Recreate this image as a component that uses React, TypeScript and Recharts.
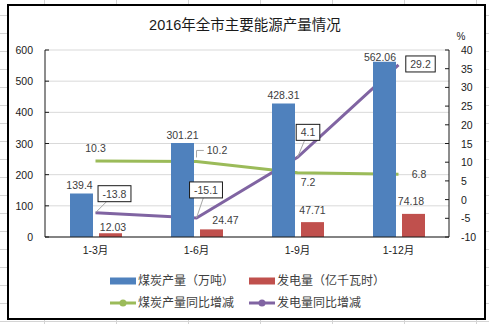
import React from 'react';
import { ComposedChart, Bar, Area, XAxis, YAxis, CartesianGrid, Legend, LabelList } from 'recharts';

// ---- data ----
const categories = ['1-3月', '1-6月', '1-9月', '1-12月'];
const coalOutput = [139.4, 301.21, 428.31, 562.06];
const powerOutput = [12.03, 24.47, 47.71, 74.18];
const coalYoY = [10.3, 10.2, 7.2, 6.8];
const powerYoY = [-13.8, -15.1, 4.1, 29.2];
const leftTicks = [0, 100, 200, 300, 400, 500, 600];
const rightTicks = [-10, -5, 0, 5, 10, 15, 20, 25, 30, 35, 40];

const seriesNames = {
  coal: '煤炭产量（万吨）',
  power: '发电量（亿千瓦时）',
  coalYoY: '煤炭产量同比增减',
  powerYoY: '发电量同比增减',
};

const data = categories.map((name, i) => ({
  name,
  coal: coalOutput[i],
  power: powerOutput[i],
  coalYoY: coalYoY[i],
  powerYoY: powerYoY[i],
}));

// ---- layout / style ----
const W = 489;
const H = 324;
const PLOT_LEFT = 45;
const PLOT_RIGHT = 449;
const PLOT_TOP = 50;
const PLOT_BOTTOM = 237;
const FONT = "'Liberation Sans', 'Noto Sans CJK SC', sans-serif";
const BLUE = '#4F81BD';
const RED = '#C0504D';
const GREEN = '#9BBB59';
const PURPLE = '#8064A2';
const AXIS = '#1a1a1a';
const LABEL = '#404040';

const COAL_NUDGE = [[-2, -8.5], [0, -8], [0, -8.4], [-4.5, -4.5]];
const POWER_NUDGE = [[2.5, -6.5], [14, -9.4], [0, -12], [-2.5, -13]];
const GREEN_OFFSETS = [[0, -13], [20.5, -11], [10.5, 9], [20.5, 0]];
const PURPLE_OFFSETS = [[19, -19], [9.5, -28], [10.5, -25], [22, -1]];

const LEGEND_LAYOUT: Record<string, { left: number; top: number; line: boolean; color: string }> = {
  coal: { left: 110, top: 6, line: false, color: BLUE },
  power: { left: 249, top: 6, line: false, color: RED },
  coalYoY: { left: 110, top: 28, line: true, color: GREEN },
  powerYoY: { left: 249, top: 28, line: true, color: PURPLE },
};

const textWidth = (s: string, fs: number) => {
  let w = 0;
  for (const ch of s) {
    if (ch === '.') w += 0.278;
    else if (ch === '-') w += 0.333;
    else w += 0.556;
  }
  return w * fs;
};

const LeftTick = (props: any) => {
  const { y, payload } = props;
  return (
    <g>
      <line x1={PLOT_LEFT} x2={PLOT_LEFT + 4} y1={y} y2={y} stroke={AXIS} strokeWidth={1} />
      <text x={33} y={y} textAnchor="end" dominantBaseline="central" fontSize={10.5} fill={AXIS} fontFamily={FONT}>
        {payload.value}
      </text>
    </g>
  );
};

const RightTick = (props: any) => {
  const { y, payload } = props;
  return (
    <g>
      <line x1={PLOT_RIGHT - 4} x2={PLOT_RIGHT} y1={y} y2={y} stroke={AXIS} strokeWidth={1} />
      <text x={461} y={y} textAnchor="start" dominantBaseline="central" fontSize={10.5} fill={AXIS} fontFamily={FONT}>
        {payload.value}
      </text>
    </g>
  );
};

const makeBarLabel = (nudges: number[][]) => (props: any) => {
  const { x, y, width, value, index } = props;
  const [dx, dy] = nudges[index] || [0, -8];
  return (
    <text x={x + width / 2 + dx} y={y + dy} textAnchor="middle" dominantBaseline="central" fontSize={10.5} fill={LABEL} fontFamily={FONT}>
      {value}
    </text>
  );
};

const GreenLabel = (props: any) => {
  const { x, y, value, index } = props;
  const [dx, dy] = GREEN_OFFSETS[index] || [0, -12];
  const cx = x + dx;
  const cy = y + dy;
  const s = String(value);
  const tw = textWidth(s, 10.5);
  return (
    <g>
      {index === 1 && (
        <polyline
          points={`${x},${y - 4} ${x},${cy} ${cx - tw / 2 - 3},${cy}`}
          fill="none"
          stroke="#a6a6a6"
          strokeWidth={1}
        />
      )}
      <text x={cx} y={cy} textAnchor="middle" dominantBaseline="central" fontSize={10.5} fill={LABEL} fontFamily={FONT}>
        {s}
      </text>
    </g>
  );
};

const PurpleLabel = (props: any) => {
  const { x, y, value, index } = props;
  const [dx, dy] = PURPLE_OFFSETS[index] || [10, -20];
  const cx = x + dx;
  const cy = y + dy;
  const s = String(value);
  const bw = textWidth(s, 10.5) + 9;
  const bh = 16;
  const by1 = cy + bh / 2;
  let leader = null;
  if (y > by1 + 2) {
    const tx = x + (cx - x) * (y - by1) / (y - cy);
    leader = <line x1={x} y1={y} x2={tx} y2={by1} stroke="#a6a6a6" strokeWidth={1} />;
  }
  return (
    <g>
      {leader}
      <rect x={cx - bw / 2} y={cy - bh / 2} width={bw} height={bh} fill="#fff" stroke="#1a1a1a" strokeWidth={1} />
      <text x={cx} y={cy} textAnchor="middle" dominantBaseline="central" fontSize={10.5} fill={LABEL} fontFamily={FONT}>
        {s}
      </text>
    </g>
  );
};

const LegendContent = (props: any) => {
  const payload = props.payload || [];
  return (
    <div style={{ position: 'relative', width: W, height: 45 }}>
      {payload.map((p: any, i: number) => {
        const key = String(p.dataKey);
        const cfg = LEGEND_LAYOUT[key];
        if (!cfg) return null;
        return (
          <div
            key={key}
            style={{
              position: 'absolute',
              left: cfg.left,
              top: cfg.top,
              height: 14,
              display: 'flex',
              alignItems: 'center',
              whiteSpace: 'nowrap',
            }}
          >
            <svg width={26} height={14} style={{ display: 'block' }}>
              {cfg.line ? (
                <g>
                  <line x1={0} x2={26} y1={7} y2={7} stroke={cfg.color} strokeWidth={3} />
                  <circle cx={13} cy={7} r={3.5} fill={cfg.color} />
                </g>
              ) : (
                <rect x={0} y={3.5} width={26} height={7} fill={cfg.color} />
              )}
            </svg>
            <span style={{ marginLeft: 2, fontSize: 12, color: LABEL, fontFamily: FONT, lineHeight: '14px' }}>{p.value}</span>
          </div>
        );
      })}
    </div>
  );
};

export default function App() {
  return (
    <div
      style={{
        position: 'absolute',
        left: 0,
        top: 0,
        width: W,
        height: H,
        overflow: 'hidden',
        backgroundColor: '#fff',
        backgroundImage:
          'linear-gradient(to right, #d4d4d4 1px, transparent 1px), linear-gradient(to bottom, #d4d4d4 1px, transparent 1px)',
        backgroundSize: '72px 18px',
        backgroundPosition: '44px 15px',
      }}
    >
      <div
        style={{
          position: 'absolute',
          left: 7,
          top: 4,
          width: 479,
          height: 316,
          boxSizing: 'border-box',
          border: '2px solid #000',
          background: '#fff',
        }}
      />
      <div
        style={{
          position: 'absolute',
          left: 0,
          top: 15,
          width: 490,
          textAlign: 'center',
          fontSize: 14.5,
          lineHeight: '20px',
          fontFamily: FONT,
          color: '#1a1a1a',
        }}
      >
        2016年全市主要能源产量情况
      </div>
      <div
        style={{
          position: 'absolute',
          left: 456,
          top: 30,
          width: 10,
          textAlign: 'center',
          fontSize: 10,
          lineHeight: '14px',
          fontFamily: FONT,
          color: AXIS,
        }}
      >
        %
      </div>
      <div style={{ position: 'absolute', left: 0, top: 0 }}>
        <ComposedChart
          width={W}
          height={H}
          data={data}
          margin={{ top: PLOT_TOP, right: 0, bottom: H - PLOT_BOTTOM - 20, left: 0 }}
          barGap={6}
          barSize={23}
        >
          <CartesianGrid yAxisId="left" vertical={false} stroke="#d9d9d9" />
          <XAxis
            dataKey="name"
            height={20}
            tickLine={false}
            tickSize={0}
            tickMargin={10}
            axisLine={{ stroke: AXIS }}
            tick={{ fontSize: 10.5, fill: AXIS, fontFamily: FONT }}
            interval={0}
          />
          <YAxis
            yAxisId="left"
            width={PLOT_LEFT}
            domain={[0, 600]}
            ticks={leftTicks}
            interval={0}
            tickLine={false}
            tickSize={0}
            axisLine={{ stroke: AXIS }}
            tick={<LeftTick />}
          />
          <YAxis
            yAxisId="right"
            orientation="right"
            width={W - PLOT_RIGHT}
            domain={[-10, 40]}
            ticks={rightTicks}
            interval={0}
            tickLine={false}
            tickSize={0}
            axisLine={{ stroke: AXIS }}
            tick={<RightTick />}
          />
          <Bar yAxisId="left" dataKey="coal" name={seriesNames.coal} fill={BLUE} isAnimationActive={false}>
            <LabelList dataKey="coal" content={makeBarLabel(COAL_NUDGE)} />
          </Bar>
          <Bar yAxisId="left" dataKey="power" name={seriesNames.power} fill={RED} isAnimationActive={false}>
            <LabelList dataKey="power" content={makeBarLabel(POWER_NUDGE)} />
          </Bar>
          <Area
            yAxisId="right"
            type="linear"
            dataKey="coalYoY"
            name={seriesNames.coalYoY}
            stackId="yoy"
            stroke={GREEN}
            strokeWidth={3}
            fill="none"
            fillOpacity={0}
            dot={{ r: 3.5, fill: GREEN, stroke: GREEN, strokeWidth: 0 }}
            activeDot={false}
            legendType="line"
            isAnimationActive={false}
          >
            <LabelList dataKey="coalYoY" content={<GreenLabel />} />
          </Area>
          <Area
            yAxisId="right"
            type="linear"
            dataKey="powerYoY"
            name={seriesNames.powerYoY}
            stackId="yoy"
            stroke={PURPLE}
            strokeWidth={3}
            fill="none"
            fillOpacity={0}
            dot={{ r: 3.5, fill: PURPLE, stroke: PURPLE, strokeWidth: 0 }}
            activeDot={false}
            legendType="line"
            isAnimationActive={false}
          >
            <LabelList dataKey="powerYoY" content={<PurpleLabel />} />
          </Area>
          <Legend
            layout="horizontal"
            verticalAlign="middle"
            align="center"
            wrapperStyle={{ left: 0, top: 268, width: W, height: 45 }}
            content={<LegendContent />}
          />
        </ComposedChart>
      </div>
    </div>
  );
}
